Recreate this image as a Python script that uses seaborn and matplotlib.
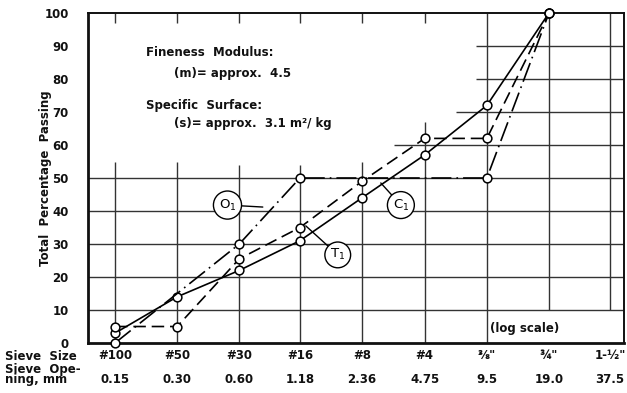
import numpy as np
import pandas as pd
import matplotlib.pyplot as plt
import seaborn as sns

# sieves (log scale of openings)
sieve_names = ['#100', '#50', '#30', '#16', '#8', '#4', '⅜"', '¾"', '1-½"']
openings = [0.15, 0.30, 0.60, 1.18, 2.36, 4.75, 9.5, 19.0, 37.5]
opening_labels = ['0.15', '0.30', '0.60', '1.18', '2.36', '4.75', '9.5', '19.0', '37.5']
y_ticks = [0, 10, 20, 30, 40, 50, 60, 70, 80, 90, 100]

# grading curves, total percentage passing
c1_open = [0.15, 0.30, 0.60, 1.18, 2.36, 4.75, 9.5, 19.0]
c1_pass = [3, 14, 22, 31, 44, 57, 72, 100]
t1_open = [0.15, 0.30, 0.60, 1.18, 2.36, 4.75, 9.5, 19.0]
t1_pass = [5, 5, 25.5, 35, 49, 62, 62, 100]
o1_open = [0.15, 0.60, 1.18, 9.5, 19.0]
o1_pass = [0, 30, 50, 50, 100]

df = pd.concat([
    pd.DataFrame({'opening': c1_open, 'passing': c1_pass, 'curve': 'C1'}),
    pd.DataFrame({'opening': t1_open, 'passing': t1_pass, 'curve': 'T1'}),
    pd.DataFrame({'opening': o1_open, 'passing': o1_pass, 'curve': 'O1'}),
])

sns.set_style('white')
plt.rcParams['font.family'] = ['DejaVu Sans']
font = dict(fontsize=8.5, fontweight='bold', color='#111111')

fig = plt.figure(figsize=(6.27, 3.93), dpi=100)
ax = fig.add_axes([0.1404, 0.1272, 0.8549, 0.8397])

ax.set_xscale('log', base=2)
ax.set_xlim(0.111, 43.9)
ax.set_ylim(0, 100)

# hand-drawn style grid, broken around the notes
gkw = dict(color='#333333', lw=1.0, zorder=1)
v_lo = [0, 0, 0, 0, 0, 0, 0, 10, 10]
v_hi = [55, 55, 54, 54, 55, 67, 100, 100, 100]
ax.vlines(openings, v_lo, v_hi, **gkw)
ax.vlines(openings[:6], 97, 100, **gkw)
h_start = [0.111, 0.111, 0.111, 0.111, 0.111, 3.37, 6.74, 8.4, 8.4]
ax.hlines(y_ticks[1:10], h_start, 43.9, **gkw)

sns.lineplot(data=df, x='opening', y='passing', style='curve',
             dashes={'C1': '', 'T1': (7.5, 3.5), 'O1': (12, 3, 1, 3)},
             markers={'C1': 'o', 'T1': 'o', 'O1': 'o'},
             color='black', lw=1.2, markersize=6.3, markerfacecolor='white',
             markeredgecolor='black', markeredgewidth=1.1,
             errorbar=None, legend=False, clip_on=False, zorder=3, ax=ax)

# curve labels
lab_kw = dict(fontsize=9.5, color='black', ha='center', va='center', zorder=4,
              bbox=dict(boxstyle='circle,pad=0.4', fc='white', ec='black', lw=1.0),
              arrowprops=dict(arrowstyle='-', color='black', lw=1.0,
                              shrinkA=0, shrinkB=0))
ax.annotate('O$_1$', xy=(0.78, 41.2), xytext=(0.526, 41.8), **lab_kw)
ax.annotate('C$_1$', xy=(2.91, 48.5), xytext=(3.64, 41.8), **lab_kw)
ax.annotate('T$_1$', xy=(1.26, 35.5), xytext=(1.80, 26.7), **lab_kw)

# notes
ax.text(0.108, 0.879, 'Fineness  Modulus:', transform=ax.transAxes, va='center', **font)
ax.text(0.160, 0.818, '(m)= approx.  4.5', transform=ax.transAxes, va='center', **font)
ax.text(0.108, 0.721, 'Specific  Surface:', transform=ax.transAxes, va='center', **font)
ax.text(0.160, 0.664, '(s)= approx.  3.1 m²/ kg', transform=ax.transAxes, va='center', **font)
ax.text(0.815, 0.045, '(log scale)', transform=ax.transAxes, ha='center', va='center', **font)

# axes, ticks
ax.set_xticks(openings)
ax.set_xticklabels(sieve_names, **font)
ax.xaxis.set_minor_locator(plt.NullLocator())
ax.set_yticks(y_ticks)
ax.set_yticklabels([str(v) for v in y_ticks], **font)
ax.tick_params(axis='x', length=0, pad=4)
ax.tick_params(axis='y', length=0, pad=14)
ax.set_xlabel('')
ax.set_ylabel('Total  Percentage  Passing', **font)
ax.yaxis.set_label_coords(-0.067, 0.5)

for x, lab in zip(openings, opening_labels):
    ax.text(x, -0.112, lab, transform=ax.get_xaxis_transform(),
            ha='center', va='center', **font)

fig.text(0.008, 0.094, 'Sieve  Size', ha='left', va='center', **font)
fig.text(0.008, 0.047, 'Sieve  Ope-\nning, mm', ha='left', va='center',
         linespacing=0.75, **font)

for side in ['left', 'bottom']:
    ax.spines[side].set_linewidth(2.0)
for side in ['top', 'right']:
    ax.spines[side].set_linewidth(1.4)
for sp in ax.spines.values():
    sp.set_color('#111111')
    sp.set_zorder(2)

fig.savefig('out.png', dpi=100)
